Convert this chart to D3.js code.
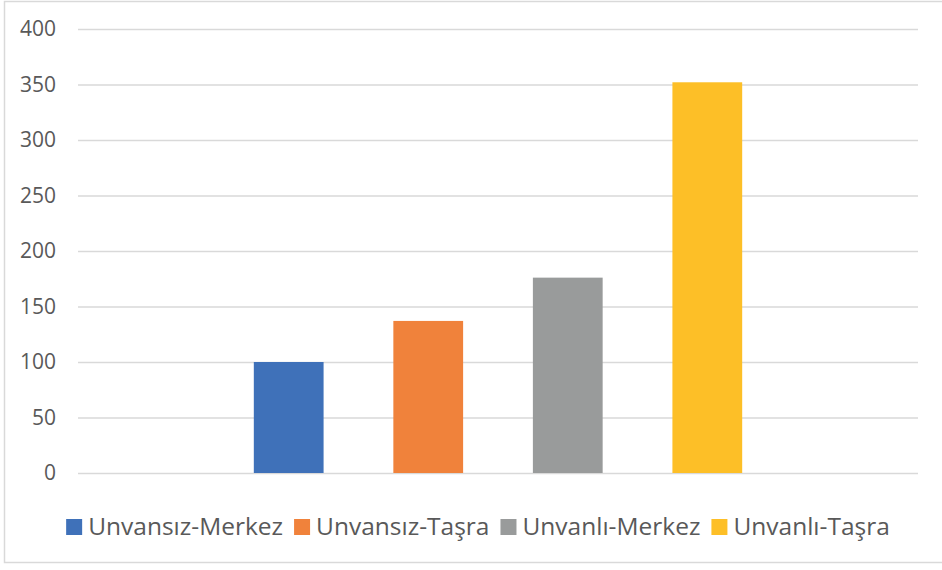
<!DOCTYPE html>
<html>
<head>
<meta charset="utf-8">
<script src="https://cdn.jsdelivr.net/npm/d3@7"></script>
<style>
  body { margin: 0; background: #fff; }
  text { font-family: "Open Sans", sans-serif; fill: #595959; }
</style>
</head>
<body>
<div id="chart"></div>
<script>
// datos del grafico
var series = ["Unvansız-Merkez", "Unvansız-Taşra", "Unvanlı-Merkez", "Unvanlı-Taşra"];
var values = [100, 137, 176, 352];
var colors = ["#3f71b9", "#f0823b", "#999b9b", "#fdbf27"];
var yTicks = [0, 50, 100, 150, 200, 250, 300, 350, 400];

var width = 942;
var height = 570;

var svg = d3.select("#chart")
    .append("svg")
    .attr("width", width)
    .attr("height", height);

// marco exterior
svg.append("rect")
    .attr("x", 4.5)
    .attr("y", 1.5)
    .attr("width", 945)
    .attr("height", 561)
    .attr("fill", "none")
    .attr("stroke", "#d9d9d9")
    .attr("stroke-width", 1.5);

var plotLeft = 78, plotRight = 918, plotTop = 29, plotBottom = 473;

var scaleX = d3.scaleBand()
    .domain(series)
    .range([plotLeft, plotRight])
    .paddingInner(0.5)
    .paddingOuter(1.26);

var scaleY = d3.scaleLinear()
    .domain([0, 400])
    .range([plotBottom, plotTop]);

// eje y con lineas de rejilla
var yAxis = d3.axisLeft(scaleY)
    .tickValues(yTicks)
    .tickSize(-(plotRight - plotLeft))
    .tickPadding(22);

var gy = svg.append("g")
    .attr("transform", "translate(" + plotLeft + ",0)")
    .call(yAxis);
gy.select(".domain").remove();
gy.selectAll(".tick line")
    .attr("stroke", "#d9d9d9")
    .attr("stroke-width", 1.5);
gy.selectAll(".tick text")
    .style("font-size", "21px")
    .style("font-family", "'Open Sans', sans-serif")
    .attr("fill", "#595959");

// barras
svg.append("g")
    .selectAll("rect")
    .data(values)
    .enter()
    .append("rect")
    .attr("x", (d, i) => scaleX(series[i]))
    .attr("y", (d) => scaleY(d))
    .attr("width", scaleX.bandwidth())
    .attr("height", (d) => scaleY(0) - scaleY(d))
    .attr("fill", (d, i) => colors[i]);

// leyenda
var legend = svg.append("g");
var box = 16, gapText = 6, gapItem = 11, baseY = 535;
var items = legend.selectAll("g")
    .data(series)
    .enter()
    .append("g");
items.append("rect")
    .attr("width", box)
    .attr("height", box)
    .attr("y", baseY - box)
    .attr("fill", (d, i) => colors[i]);
items.append("text")
    .attr("x", box + gapText)
    .attr("y", baseY)
    .style("font-size", "24.5px")
    .text((d) => d);

var widths = [];
items.each(function () {
    widths.push(d3.select(this).select("text").node().getComputedTextLength());
});
var total = d3.sum(widths) + series.length * (box + gapText) + (series.length - 1) * gapItem;
var xPos = 478 - total / 2;
items.attr("transform", function (d, i) {
    var t = "translate(" + xPos + ",0)";
    xPos += box + gapText + widths[i] + gapItem;
    return t;
});
</script>
</body>
</html>
